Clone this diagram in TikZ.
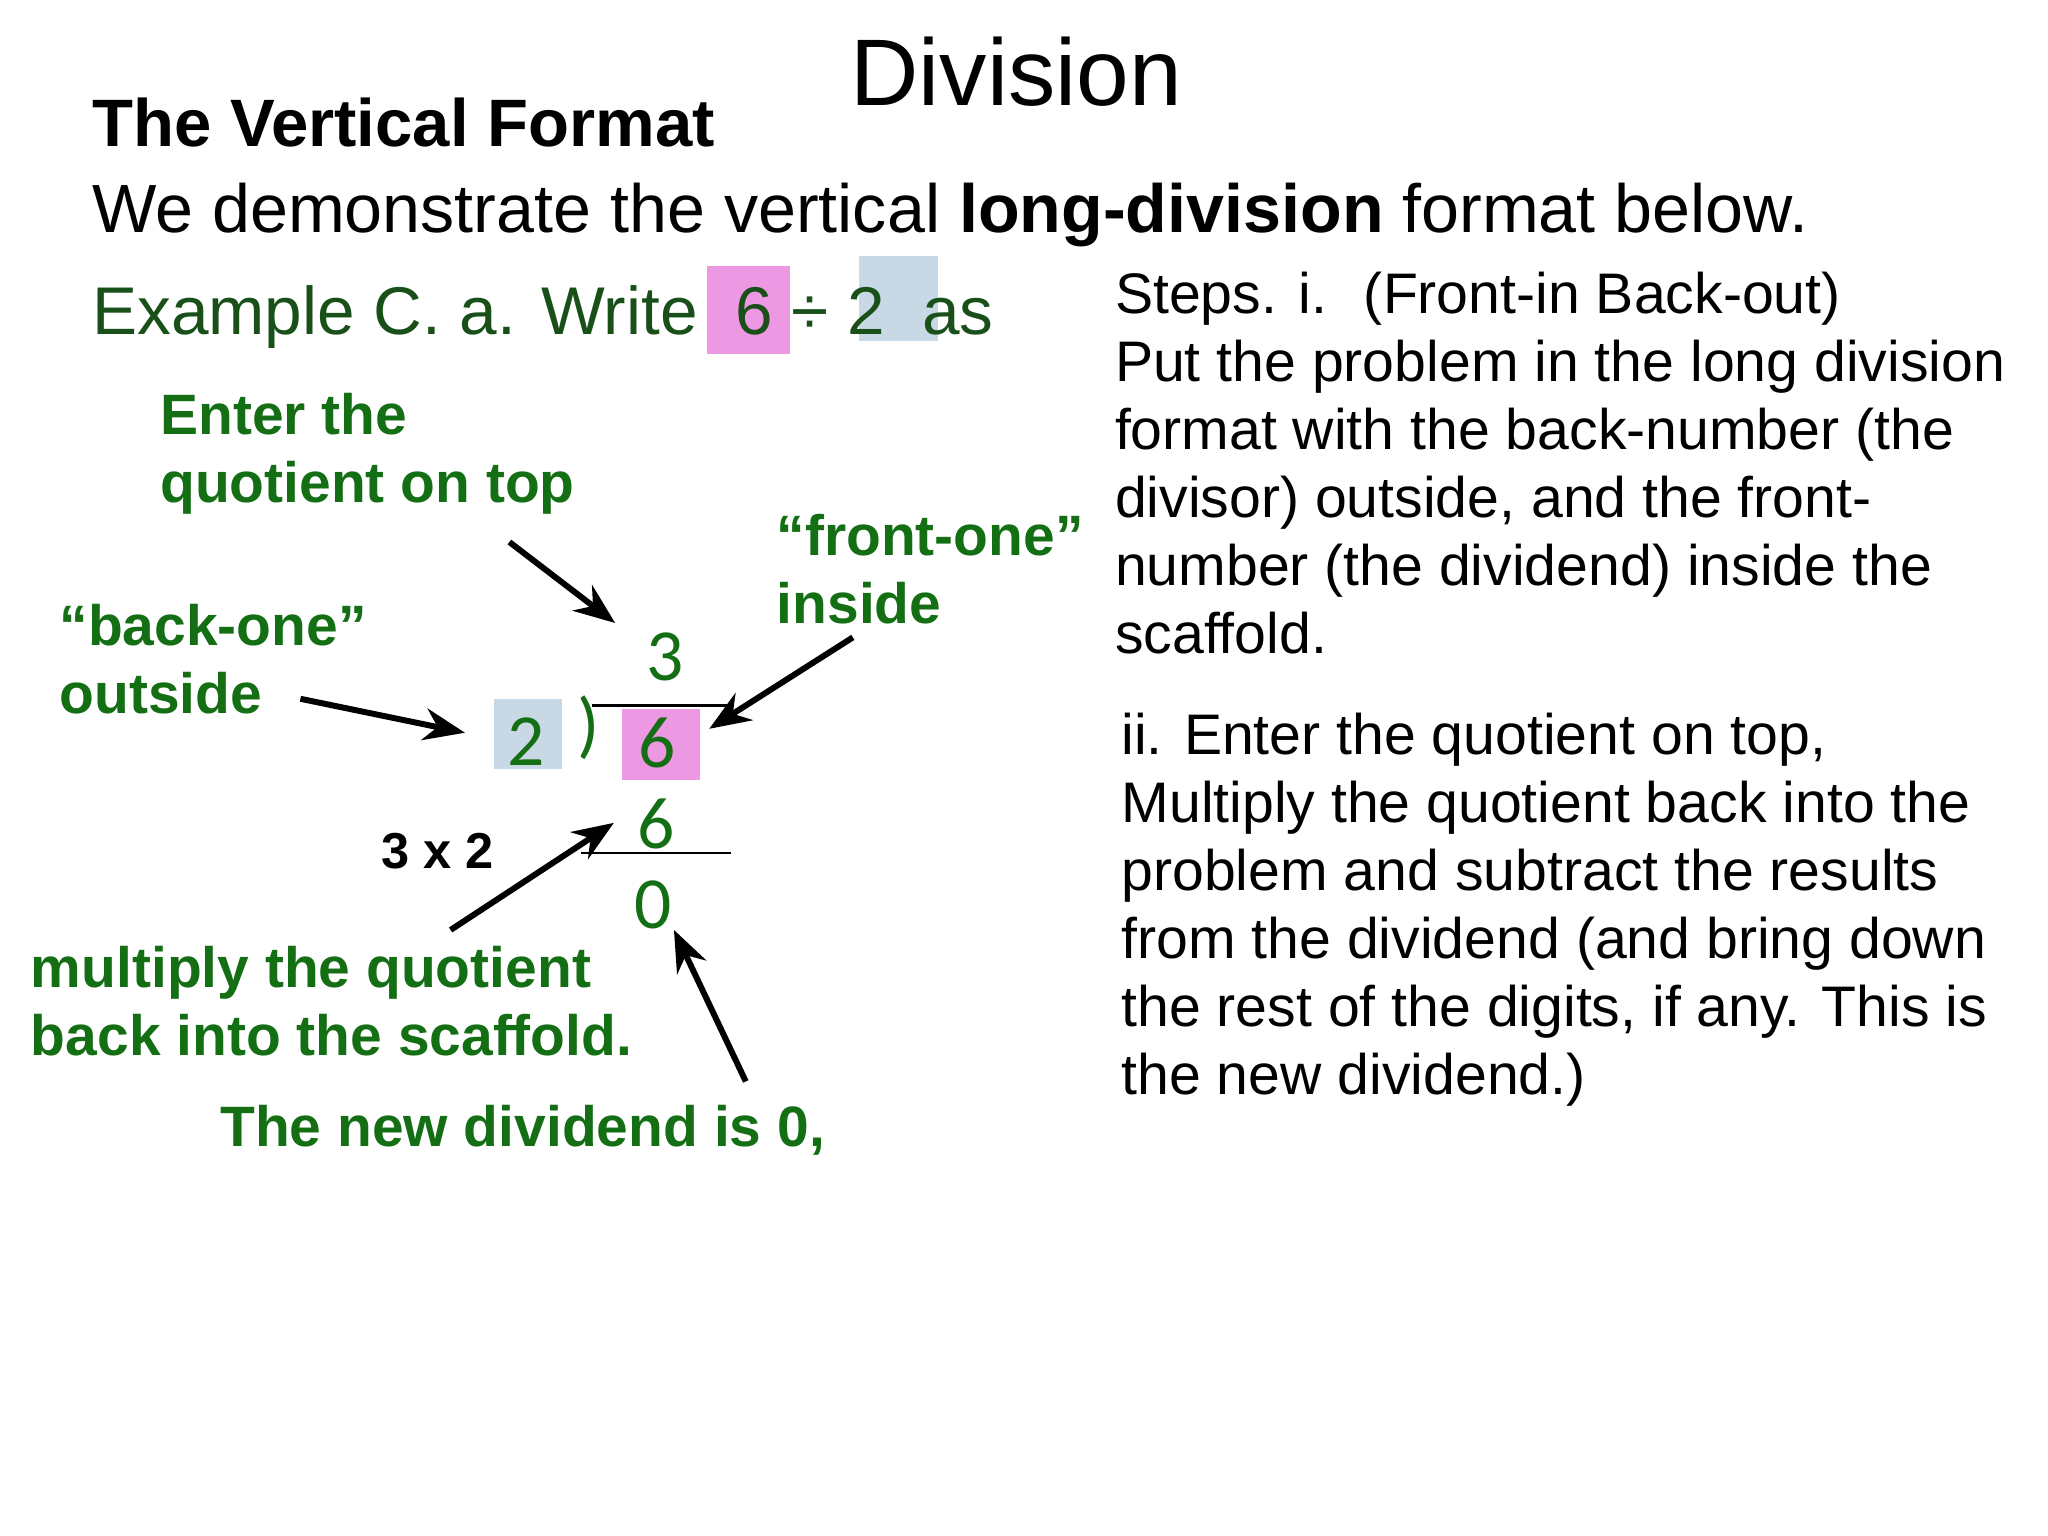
\documentclass[tikz,border=0pt]{standalone}
\usepackage{fontspec}
\setmainfont{Liberation Sans}
\newfontfamily\digf{Carlito}
\usetikzlibrary{arrows.meta}
\definecolor{lg}{RGB}{20,110,20}
\definecolor{dg}{RGB}{25,80,25}
\definecolor{pk}{RGB}{236,152,226}
\definecolor{bl}{RGB}{200,216,228}
\begin{document}
\begin{tikzpicture}[x=0.01cm,y=-0.01cm,
 lab/.style={anchor=base west,inner sep=0,text=lg,font=\fontsize{12.4}{14.8}\selectfont\bfseries,align=left},
 body/.style={anchor=base west,inner sep=0,font=\fontsize{12.45}{14.8}\selectfont,align=left},
 dig/.style={inner sep=0,text=lg,font=\digf\fontsize{16}{16}\selectfont},
 arr/.style={-{Stealth[length=9pt,width=7pt]},line width=1.3pt}]
\useasboundingbox (0,0) rectangle (1568,1176);
\node (title) at (778,55) {\fontsize{20.6}{21}\selectfont Division};
\node[anchor=base west,inner sep=0] (vf) at (70,112) {\fontsize{14.6}{14.6}\selectfont\bfseries The Vertical Format};
\node[anchor=base west,inner sep=0] (we) at (70,178) {\fontsize{14.85}{14.6}\selectfont We demonstrate the vertical \textbf{long-division} format below.};
\fill[pk] (541,204) rectangle (605,271);
\fill[bl] (658,196) rectangle (718,261);
\node[anchor=base west,inner sep=0,text=dg] (ex) at (70,256) {\fontsize{14.7}{14.6}\selectfont Example C. a. Write \ 6 ÷ 2 \ as};
\node[body] (s1) at (853,500) {Steps. i. \ (Front-in Back-out)\\Put the problem in the long division\\format with the back-number (the\\divisor) outside, and the front-\\number (the dividend) inside the\\scaffold.};
\node[body] (s2) at (858,838) {ii. Enter the quotient on top,\\Multiply the quotient back into the\\problem and subtract the results\\from the dividend (and bring down\\the rest of the digits, if any. This is\\the new dividend.)};
\node[lab] (l1) at (122,385) {Enter the\\quotient on top};
\node[lab] (l2) at (594,477) {“front-one”\\inside};
\node[lab] (l3) at (45,546) {“back-one”\\outside};
\node[lab] (l4) at (23,808) {multiply the quotient\\back into the scaffold.};
\node[lab] (l5) at (168,878) {The new dividend is 0,};
\node[anchor=base west,inner sep=0,font=\fontsize{11}{11}\selectfont\bfseries] (m) at (291,665) {3 x 2};
\fill[bl] (378,535) rectangle (430,589);
\fill[pk] (476,543) rectangle (536,597);
\node[dig] (q) at (509,503) {3};
\draw[line width=0.6pt] (453,540) -- (560,540);
\node[dig] (par) at (451,557) {)};
\node[dig] (d) at (403,568) {2};
\node[dig] (n) at (503,569) {6};
\node[dig] (p) at (502,631) {6};
\draw[line width=0.6pt] (445,653) -- (560,653);
\node[dig] (z) at (500,693) {0};
\coordinate (a1s) at (390,415); \coordinate (a1e) at (471,477);
\coordinate (a2s) at (230,535); \coordinate (a2e) at (356,561);
\coordinate (a3s) at (653,488); \coordinate (a3e) at (543,558);
\coordinate (a4s) at (345,712); \coordinate (a4e) at (470,630);
\coordinate (a5s) at (571,828); \coordinate (a5e) at (516,712);
\draw[arr] (a1s) -- (a1e);
\draw[arr] (a2s) -- (a2e);
\draw[arr] (a3s) -- (a3e);
\draw[arr] (a4s) -- (a4e);
\draw[arr] (a5s) -- (a5e);
\end{tikzpicture}
\end{document}
